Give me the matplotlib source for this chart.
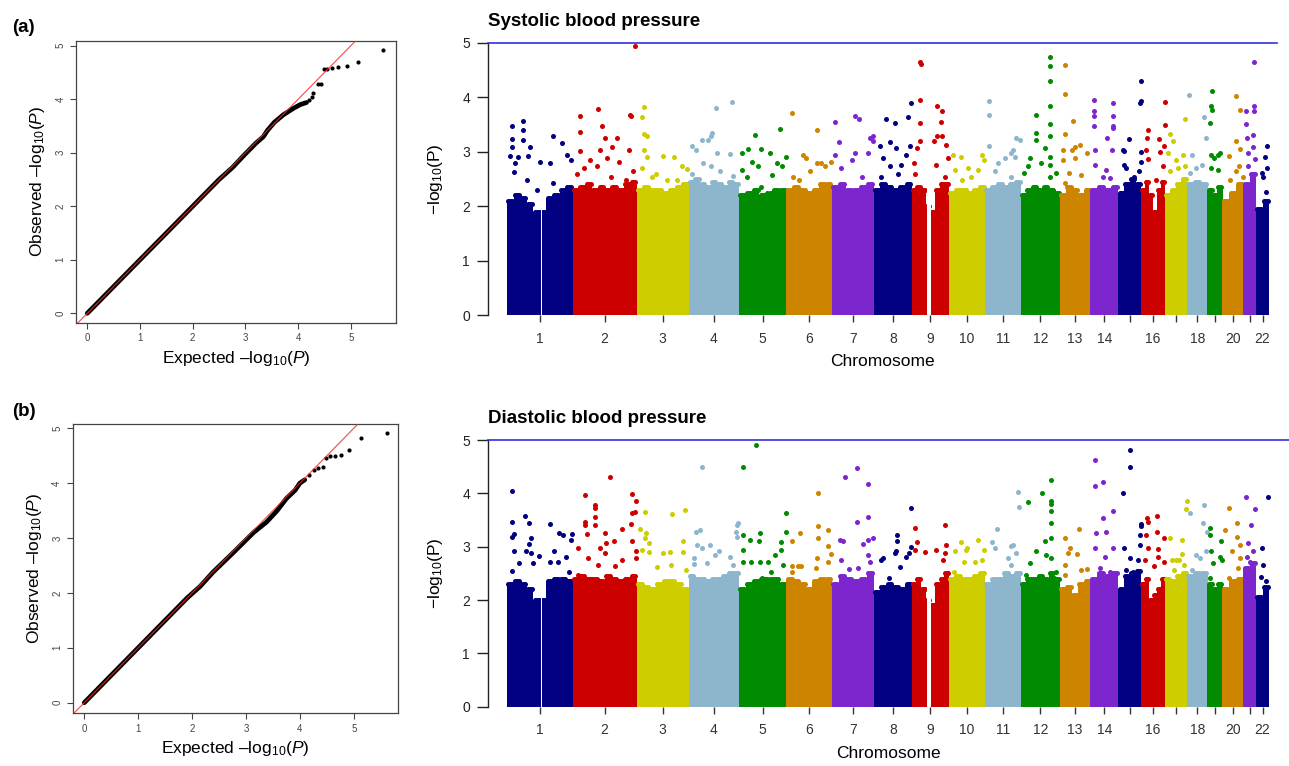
import numpy as np
import matplotlib
matplotlib.use("Agg")
import matplotlib.pyplot as plt

plt.rcParams["font.family"] = ["Liberation Sans", "DejaVu Sans"]
plt.rcParams["mathtext.fontset"] = "custom"
plt.rcParams["mathtext.rm"] = "Liberation Sans"
plt.rcParams["mathtext.it"] = "Liberation Sans:italic"

# ---- data ----
chrom_len = [250, 243, 198, 191, 181, 172, 160, 144, 142, 136, 137,
             148, 117, 106, 87, 90, 84, 78, 57, 80, 47, 51]
chrom_labels = ["1", "2", "3", "4", "5", "6", "7", "8", "9", "10", "11",
                "12", "13", "14", "", "16", "", "18", "", "20", "", "22"]
palette = ["#000080", "#CD0000", "#CDCD00", "#8DB6CD", "#008B00", "#CD8500", "#7D26CD"]
gaps = {0: (0.51, 0.53), 8: (0.40, 0.52)}

sbp_body = [
    [2.1, 2.2, 2.15, 2.05, 1.9, 1.9, 2.15, 2.2, 2.3, 2.35],
    [2.3, 2.35, 2.4, 2.3, 2.35, 2.3, 2.35, 2.3, 2.4, 2.45],
    [2.3, 2.35, 2.3, 2.3, 2.25, 2.3, 2.35, 2.4],
    [2.45, 2.5, 2.4, 2.35, 2.45, 2.4, 2.35, 2.45, 2.4],
    [2.2, 2.25, 2.3, 2.2, 2.25, 2.3, 2.3],
    [2.3, 2.35, 2.3, 2.25, 2.3, 2.4, 2.4],
    [2.35, 2.4, 2.3, 2.3, 2.35, 2.4],
    [2.3, 2.4, 2.35, 2.3, 2.35, 2.4],
    [2.3, 2.35, 2.3, 2.0, 1.9, 2.3, 2.4, 2.4],
    [2.25, 2.3, 2.3, 2.25, 2.3, 2.35],
    [2.3, 2.35, 2.4, 2.35, 2.4, 2.45],
    [2.2, 2.3, 2.35, 2.3, 2.35, 2.3, 2.25],
    [2.2, 2.35, 2.3, 2.2, 2.3],
    [2.3, 2.35, 2.3, 2.35],
    [2.25, 2.4, 2.5, 2.4],
    [2.3, 2.45, 2.2, 1.9, 2.3, 2.45],
    [2.2, 2.3, 2.4, 2.5],
    [2.4, 2.45, 2.4],
    [2.3, 2.2, 2.35],
    [2.1, 2.25, 2.4],
    [2.4, 2.6],
    [1.95, 2.1],
]

sbp_hits = [
    [(.07, 3.47), (.25, 3.57), (.08, 3.24), (.24, 3.39), (.08, 3.08), (.24, 3.22), (.35, 3.08),
     (.05, 2.92), (.17, 2.90), (.32, 2.92), (.12, 2.79), (.50, 2.82), (.70, 3.29), (.83, 3.16),
     (.91, 2.94), (.98, 2.85), (.10, 2.62), (.30, 2.48), (.65, 2.79), (.70, 2.42), (.45, 2.30)],
    [(.11, 3.65), (.39, 3.78), (.90, 3.68), (.91, 3.65), (.97, 4.94), (.11, 3.37), (.46, 3.47),
     (.50, 3.25), (.70, 3.26), (.62, 3.09), (.88, 3.03), (.11, 3.02), (.43, 3.03), (.27, 2.85),
     (.54, 2.88), (.73, 2.82), (.38, 2.73), (.17, 2.70), (.95, 2.64), (.06, 2.60), (.60, 2.54),
     (.83, 2.48)],
    [(.14, 3.82), (.10, 3.63), (.14, 3.32), (.19, 3.28), (.14, 3.03), (.19, 2.91), (.50, 2.93),
     (.71, 2.90), (.88, 2.74), (.96, 2.68), (.10, 2.70), (.29, 2.54), (.58, 2.48), (.77, 2.48),
     (.38, 2.60)],
    [(.54, 3.80), (.87, 3.92), (.46, 3.35), (.44, 3.28), (.26, 3.22), (.39, 3.22), (.06, 3.11),
     (.15, 3.03), (.56, 2.97), (.82, 2.95), (.28, 2.79), (.44, 2.73), (.06, 2.60), (.62, 2.64),
     (.89, 2.55)],
    [(.34, 3.31), (.19, 3.05), (.06, 2.97), (.27, 2.82), (.06, 2.67), (.16, 2.54), (.47, 3.05),
     (.65, 2.98), (.86, 3.41), (.99, 2.91), (.79, 2.79), (.90, 2.73), (.69, 2.57), (.41, 2.73),
     (.46, 2.36)],
    [(.12, 3.71), (.68, 3.39), (.37, 2.94), (.44, 2.88), (.77, 2.79), (.68, 2.79), (.99, 2.82),
     (.15, 2.54), (.51, 2.64), (.85, 2.73), (.27, 2.48)],
    [(.07, 3.54), (.55, 3.66), (.64, 3.60), (.17, 3.17), (.99, 3.28), (.90, 3.25), (.97, 3.19),
     (.07, 2.94), (.47, 2.85), (.55, 2.97), (.87, 2.97), (.23, 2.70), (.71, 2.54)],
    [(.32, 3.60), (.55, 3.52), (.89, 3.63), (.97, 3.89), (.16, 3.11), (.42, 3.17), (.58, 3.06),
     (.95, 3.11), (.25, 2.88), (.86, 2.94), (.42, 2.73), (.72, 2.76), (.18, 2.54), (.63, 2.60)],
    [(.23, 4.64), (.24, 4.61), (.23, 3.95), (.23, 3.52), (.23, 3.19), (.14, 3.06), (.06, 2.79),
     (.69, 3.83), (.80, 3.74), (.78, 3.55), (.69, 3.28), (.82, 3.28), (.93, 3.13), (.97, 2.88),
     (.61, 3.19), (.65, 2.76), (.08, 2.60), (.88, 2.54)],
    [(.11, 2.94), (.33, 2.90), (.91, 2.94), (.53, 2.70), (.81, 2.67), (.16, 2.67), (.62, 2.54),
     (.35, 2.48), (.98, 2.85)],
    [(.11, 3.93), (.11, 3.68), (.11, 3.11), (.56, 2.88), (.74, 2.97), (.37, 2.80), (.28, 2.64),
     (.88, 3.25), (.97, 3.22), (.79, 3.03), (.83, 2.91), (.74, 2.54)],
    [(.74, 4.73), (.74, 4.58), (.74, 4.29), (.74, 3.84), (.74, 3.50), (.74, 3.28), (.74, 2.91),
     (.74, 2.76), (.40, 3.68), (.40, 3.34), (.40, 3.22), (.62, 3.06), (.23, 2.88), (.19, 2.73),
     (.53, 2.79), (.91, 2.61), (.08, 2.61), (.74, 2.54)],
    [(.16, 4.59), (.16, 4.06), (.16, 3.32), (.43, 3.57), (.12, 3.03), (.40, 3.03), (.51, 3.09),
     (.65, 3.13), (.89, 2.97), (.12, 2.85), (.51, 2.88), (.29, 2.61), (.70, 2.57), (.16, 2.42)],
    [(.13, 3.95), (.13, 3.75), (.13, 3.65), (.13, 3.47), (.81, 3.89), (.81, 3.65), (.81, 3.47),
     (.81, 3.43), (.16, 3.03), (.59, 3.25), (.77, 3.03), (.15, 2.76), (.55, 2.67), (.46, 2.54),
     (.70, 2.51)],
    [(.97, 4.29), (.97, 3.93), (.95, 3.90), (.46, 3.23), (.20, 3.03), (.26, 3.02), (.26, 2.76),
     (.35, 2.70), (.97, 3.00), (.99, 2.82), (.89, 2.64), (.70, 2.54)],
    [(.99, 3.91), (.28, 3.39), (.24, 3.25), (.75, 3.23), (.99, 3.49), (.95, 3.11), (.20, 3.03),
     (.79, 3.00), (.30, 2.86), (.90, 2.73), (.61, 2.48)],
    [(.93, 3.60), (.21, 3.33), (.36, 3.19), (.82, 2.94), (.14, 2.97), (.52, 2.85), (.60, 2.70),
     (.21, 2.64), (.90, 2.73)],
    [(.08, 4.04), (.82, 3.63), (.95, 3.25), (.26, 2.94), (.71, 2.76), (.45, 2.70), (.13, 2.61)],
    [(.27, 4.12), (.20, 3.83), (.27, 3.77), (.15, 3.52), (.20, 2.94), (.40, 2.88), (.82, 2.97),
     (.73, 2.94), (.67, 2.67), (.20, 2.70)],
    [(.62, 4.02), (.82, 3.76), (.32, 2.92), (.62, 3.20), (.82, 3.05), (.66, 2.64), (.78, 2.73),
     (.35, 2.48), (.98, 2.54)],
    [(.84, 4.64), (.24, 3.74), (.84, 3.83), (.84, 3.74), (.24, 3.50), (.80, 3.31), (.30, 3.25),
     (.80, 3.09), (.40, 2.97), (.90, 2.86), (.40, 2.73)],
    [(.80, 3.11), (.70, 2.91), (.43, 2.61), (.80, 2.70), (.75, 2.27), (.55, 2.54)],
]

dbp_body = [
    [2.3, 2.35, 2.3, 2.2, 2.0, 2.0, 2.35, 2.4, 2.4, 2.35],
    [2.4, 2.45, 2.4, 2.4, 2.35, 2.45, 2.4, 2.35, 2.4, 2.45],
    [2.3, 2.25, 2.2, 2.3, 2.35, 2.35, 2.3, 2.2],
    [2.45, 2.4, 2.4, 2.35, 2.4, 2.4, 2.45, 2.5, 2.5],
    [2.2, 2.3, 2.35, 2.4, 2.4, 2.4, 2.3],
    [2.4, 2.35, 2.3, 2.2, 2.35, 2.4, 2.4],
    [2.3, 2.45, 2.4, 2.35, 2.4, 2.5],
    [2.15, 2.25, 2.3, 2.25, 2.2, 2.3],
    [2.3, 2.4, 2.2, 2.0, 1.9, 2.3, 2.4, 2.5],
    [2.4, 2.45, 2.4, 2.4, 2.45, 2.5],
    [2.3, 2.4, 2.4, 2.5, 2.45, 2.5],
    [2.3, 2.4, 2.4, 2.45, 2.4, 2.5, 2.4],
    [2.2, 2.25, 2.1, 2.3, 2.35],
    [2.4, 2.5, 2.45, 2.5],
    [2.2, 2.45, 2.5, 2.55],
    [2.3, 2.4, 2.0, 2.1, 2.2, 2.4],
    [2.4, 2.35, 2.45, 2.5],
    [2.45, 2.5, 2.5],
    [2.3, 2.2, 2.3],
    [2.2, 2.35, 2.4],
    [2.6, 2.7],
    [2.05, 2.25],
]

dbp_hits = [
    [(.08, 4.05), (.08, 3.47), (.28, 3.58), (.34, 3.45), (.07, 3.19), (.10, 3.23), (.36, 3.16),
     (.34, 3.05), (.37, 2.88), (.10, 2.91), (.29, 2.91), (.49, 2.83), (.08, 2.55), (.19, 2.69),
     (.39, 2.69), (.65, 3.42), (.79, 3.25), (.85, 3.21), (.99, 3.23), (.98, 3.13), (.72, 2.91),
     (.65, 2.72), (.78, 2.72), (.90, 2.80), (.94, 2.53)],
    [(.58, 4.30), (.19, 3.96), (.92, 3.98), (.99, 3.85), (.35, 3.78), (.35, 3.72), (.35, 3.56),
     (.92, 3.63), (.98, 3.65), (.19, 3.47), (.19, 3.41), (.35, 3.41), (.50, 3.25), (.22, 3.23),
     (.64, 3.11), (.77, 3.33), (.91, 3.42), (.92, 3.10), (.09, 2.97), (.42, 2.97), (.52, 3.06),
     (.51, 2.89), (.99, 2.91), (.99, 2.78), (.66, 2.63), (.24, 2.78), (.40, 2.66), (.77, 2.75),
     (.09, 2.47)],
    [(.16, 3.65), (.68, 3.61), (.92, 3.68), (.06, 3.33), (.18, 3.25), (.16, 3.17), (.24, 3.06),
     (.10, 2.94), (.90, 3.11), (.51, 2.88), (.64, 2.90), (.90, 2.90), (.95, 2.56), (.66, 2.66),
     (.24, 2.90), (.40, 2.61)],
    [(.26, 4.50), (.99, 3.44), (.97, 3.41), (.22, 3.31), (.15, 3.28), (.94, 3.28), (.96, 3.19),
     (.17, 3.03), (.43, 3.03), (.26, 2.98), (.60, 2.92), (.83, 2.81), (.10, 2.67), (.36, 2.69),
     (.52, 2.85), (.89, 2.66), (.10, 2.78)],
    [(.36, 4.90), (.09, 4.50), (.09, 3.22), (.09, 2.94), (.09, 2.71), (.23, 3.13), (.26, 2.71),
     (.45, 3.25), (.42, 3.11), (.99, 3.63), (.98, 3.28), (.88, 3.08), (.88, 2.94), (.75, 2.85),
     (.61, 2.72), (.45, 2.72), (.68, 2.53), (.48, 2.41), (.93, 2.66)],
    [(.70, 4.00), (.70, 3.38), (.70, 3.17), (.29, 3.25), (.12, 3.11), (.92, 3.31), (.92, 3.02),
     (.99, 2.86), (.67, 2.78), (.92, 2.71), (.26, 2.63), (.33, 2.63), (.12, 2.63), (.13, 2.53),
     (.65, 2.60)],
    [(.59, 4.47), (.31, 4.30), (.87, 4.17), (.59, 3.47), (.87, 3.55), (.19, 3.13), (.27, 3.10),
     (.23, 2.75), (.75, 3.05), (.87, 3.13), (.99, 3.16), (.87, 2.85), (.41, 2.58), (.62, 2.60),
     (.90, 2.72)],
    [(.99, 3.72), (.60, 3.22), (.60, 3.10), (.20, 2.75), (.24, 2.78), (.69, 2.61), (.86, 2.80),
     (.92, 2.88), (.97, 3.00), (.56, 2.88), (.59, 2.91), (.40, 2.41)],
    [(.08, 3.35), (.14, 3.08), (.10, 2.94), (.35, 2.90), (.89, 3.40), (.93, 3.03), (.89, 2.88),
     (.64, 2.94), (.85, 2.75)],
    [(.33, 3.08), (.51, 2.98), (.81, 3.13), (.97, 2.94), (.47, 2.94), (.18, 2.91), (.41, 2.72),
     (.72, 2.72), (.13, 2.53), (.93, 2.75)],
    [(.35, 3.33), (.20, 3.08), (.29, 2.97), (.74, 3.02), (.65, 2.78), (.93, 4.03), (.94, 3.74),
     (.78, 3.03), (.87, 2.88), (.73, 2.66)],
    [(.77, 4.25), (.77, 3.86), (.77, 3.80), (.77, 3.66), (.77, 3.44), (.77, 3.16), (.77, 2.78),
     (.55, 4.00), (.19, 3.83), (.40, 2.91), (.62, 3.10), (.66, 2.85), (.23, 2.69), (.91, 2.53),
     (.85, 2.41), (.53, 2.41), (.14, 2.47)],
    [(.63, 3.33), (.18, 3.16), (.26, 2.88), (.55, 2.86), (.33, 2.98), (.89, 2.58), (.68, 2.56),
     (.16, 2.66), (.16, 2.47)],
    [(.15, 4.62), (.15, 4.14), (.45, 4.22), (.45, 3.53), (.81, 3.66), (.18, 3.25), (.55, 3.28),
     (.17, 2.97), (.81, 2.97), (.52, 2.80), (.34, 2.60), (.70, 2.53)],
    [(.49, 4.82), (.49, 4.50), (.20, 4.01), (.97, 3.42), (.99, 3.38), (.94, 3.22), (.94, 3.03),
     (.24, 2.98), (.49, 2.78), (.34, 2.56), (.84, 2.75), (.63, 2.53)],
    [(.24, 3.53), (.66, 3.58), (.28, 3.47), (.19, 3.22), (.66, 3.28), (.96, 3.17), (.28, 2.97),
     (.71, 2.96), (.70, 2.81), (.14, 2.75), (.96, 2.72), (.56, 2.63)],
    [(.99, 3.85), (.97, 3.70), (.23, 3.17), (.79, 3.13), (.33, 2.75), (.48, 2.75), (.64, 2.75),
     (.79, 2.86), (.86, 2.66), (.39, 2.56)],
    [(.13, 3.63), (.83, 3.78), (.78, 3.45), (.99, 3.28), (.43, 2.85), (.95, 2.91), (.63, 2.78),
     (.26, 2.56)],
    [(.15, 3.35), (.15, 3.22), (.93, 3.10), (.82, 2.80), (.99, 2.75), (.26, 2.91), (.37, 2.69),
     (.15, 2.41)],
    [(.32, 3.72), (.67, 3.44), (.11, 3.31), (.67, 3.19), (.46, 2.92), (.82, 3.03), (.82, 2.78),
     (.75, 2.60), (.29, 2.41)],
    [(.24, 3.94), (.92, 3.70), (.59, 3.41), (.40, 3.06), (.80, 2.91), (.30, 2.81), (.55, 2.72),
     (.67, 2.53)],
    [(.92, 3.94), (.45, 2.98), (.50, 2.66), (.75, 2.35), (.75, 2.22), (.40, 2.44)],
]

qq_a_body_exp = [0.0, 0.5, 1.0, 1.5, 2.0, 2.5, 2.75, 3.0, 3.2, 3.34, 3.42, 3.55, 3.72, 3.91, 4.04, 4.16]
qq_a_body_obs = [0.0, 0.5, 1.0, 1.5, 2.0, 2.5, 2.72, 2.98, 3.18, 3.30, 3.42, 3.57, 3.71, 3.83, 3.90, 3.94]
qq_a_tail_exp = [4.20, 4.26, 4.29, 4.37, 4.43, 4.49, 4.55, 4.65, 4.76, 4.92, 5.14, 5.62]
qq_a_tail_obs = [3.99, 4.05, 4.11, 4.28, 4.28, 4.57, 4.57, 4.58, 4.61, 4.62, 4.70, 4.93]

qq_b_body_exp = [0.0, 0.5, 1.0, 1.5, 1.9, 2.15, 2.39, 2.76, 3.14, 3.38, 3.57, 3.75, 3.91, 4.0, 4.09]
qq_b_body_obs = [0.0, 0.5, 1.0, 1.5, 1.9, 2.12, 2.38, 2.73, 3.10, 3.29, 3.49, 3.72, 3.87, 4.0, 4.06]
qq_b_tail_exp = [4.17, 4.26, 4.34, 4.42, 4.48, 4.56, 4.65, 4.76, 4.91, 5.13, 5.61]
qq_b_tail_obs = [4.15, 4.24, 4.28, 4.29, 4.46, 4.49, 4.49, 4.51, 4.60, 4.83, 4.91]

W, H = 1289, 766
fig = plt.figure(figsize=(W / 100, H / 100), dpi=100)


def qq_panel(rect, xlim, ylim, bexp, bobs, texp, tobs):
    ax = fig.add_axes(rect)
    ax.plot(bexp, bobs, color="black", lw=3.4, solid_capstyle="round", zorder=2)
    ax.scatter(texp, tobs, s=9, color="black", linewidths=0, zorder=3)
    ax.plot([-1, 7], [-1, 7], color="#E8302A", lw=0.8, alpha=0.85, zorder=4)
    ax.set_xlim(*xlim)
    ax.set_ylim(*ylim)
    ax.set_xticks(range(6))
    ax.set_yticks(range(6))
    ax.tick_params(labelsize=7, length=4, colors="#444444", labelcolor="#444444")
    for lab in ax.get_yticklabels():
        lab.set_rotation(90)
        lab.set_va("center")
    for s in ax.spines.values():
        s.set_color("#444444")
        s.set_linewidth(0.9)
    ax.set_xlabel("Expected \u2013log$_{10}$($\\it{P}$)", fontsize=12.5, labelpad=4)
    ax.set_ylabel("Observed \u2013log$_{10}$($\\it{P}$)", fontsize=12.5, labelpad=6)
    return ax


def manhattan(rect, right_px, body, hits, title):
    ax = fig.add_axes(rect)
    total = sum(chrom_len)
    ppm = 762.3 / total
    offsets = np.concatenate([[0], np.cumsum(chrom_len)[:-1]])
    for i in range(len(chrom_len)):
        col = palette[i % len(palette)]
        h = np.array(body[i])
        w = chrom_len[i] / len(h)
        xs = offsets[i] + w * (np.arange(len(h)) + 0.5)
        ax.bar(xs, h, width=w * 1.01, color=col, linewidth=0, zorder=1)
        # dots along each bar top so the edge looks like stacked points
        for k in (-0.3, 0.0, 0.3):
            ax.scatter(xs + k * w, h, s=13, color=col, linewidths=0, zorder=1)
        if i in gaps:
            g0, g1 = gaps[i]
            ax.bar(offsets[i] + (g0 + g1) / 2 * chrom_len[i], max(h) + 0.1,
                   width=(g1 - g0) * chrom_len[i], color="white", linewidth=0, zorder=2)
        f = np.array([p[0] for p in hits[i]])
        v = np.array([p[1] for p in hits[i]])
        ax.scatter(offsets[i] + f * chrom_len[i], v, s=13, color=col, linewidths=0, zorder=3)
    ax.axhline(5, color="#3030E0", lw=1.2, zorder=4, clip_on=False)
    ax.set_xlim(-19 / ppm, total + (right_px - 1269.3) / ppm)
    ax.set_ylim(0, 5)
    ax.set_xticks(offsets + np.array(chrom_len) / 2)
    ax.set_xticklabels(chrom_labels)
    ax.set_yticks(range(6))
    for s in ["top", "right", "bottom"]:
        ax.spines[s].set_visible(False)
    ax.spines["left"].set_color("#222222")
    ax.spines["left"].set_linewidth(1.0)
    ax.tick_params(axis="y", length=8, width=1.0, labelsize=10, pad=5, colors="#222222")
    ax.tick_params(axis="x", length=5, width=1.0, labelsize=10, pad=7, colors="#333333")
    ax.set_xlabel("Chromosome", fontsize=12.5, labelpad=6)
    ax.set_ylabel("\u2212log$_{10}$(P)", fontsize=12.5, labelpad=12)
    ax.set_title(title, loc="left", fontsize=13.5, fontweight="bold", pad=12)
    return ax


qq_panel([76 / W, 1 - 323 / H, 320 / W, 282.3 / H], (-0.214, 5.858), (-0.181, 5.095),
         qq_a_body_exp, qq_a_body_obs, qq_a_tail_exp, qq_a_tail_obs)
qq_panel([72.7 / W, 1 - 713.3 / H, 325.3 / W, 289.3 / H], (-0.215, 5.82), (-0.193, 5.077),
         qq_b_body_exp, qq_b_body_obs, qq_b_tail_exp, qq_b_tail_obs)

manhattan([488 / W, 1 - 315.3 / H, (1277 - 488) / W, 272.6 / H], 1277,
          sbp_body, sbp_hits, "Systolic blood pressure")
manhattan([488 / W, 1 - 706.7 / H, (1289 - 488) / W, 266.7 / H], 1289,
          dbp_body, dbp_hits, "Diastolic blood pressure")

fig.text(12 / W, 1 - 28 / H, "(a)", fontsize=13.5, fontweight="bold", va="center", ha="left")
fig.text(12 / W, 1 - 412 / H, "(b)", fontsize=13.5, fontweight="bold", va="center", ha="left")

fig.savefig("out.png", dpi=100)
